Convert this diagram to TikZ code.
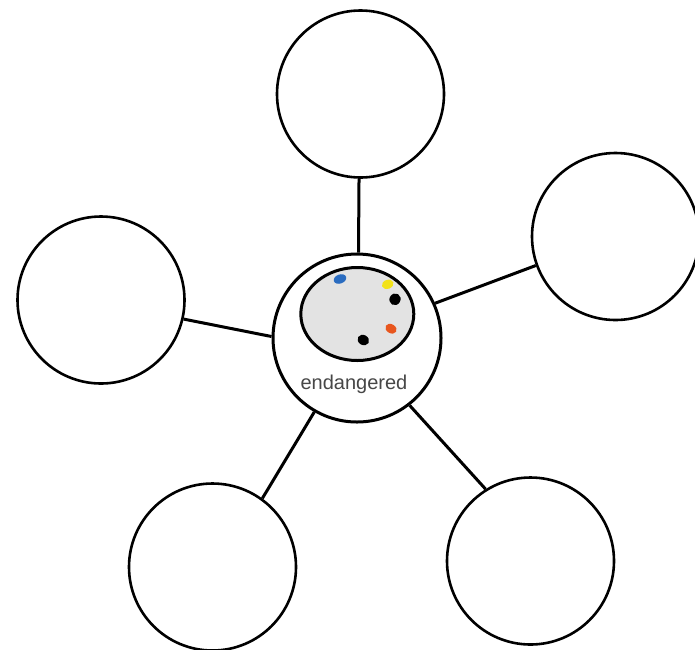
\documentclass[tikz,border=0pt]{standalone}
\usepackage{fontspec}
\setmainfont{Liberation Sans}
\definecolor{spotblue}{HTML}{2A6CC0}
\definecolor{spotyellow}{HTML}{F2E21A}
\definecolor{spotorange}{HTML}{E8561E}
\begin{document}
\begin{tikzpicture}[x=1pt,y=-1pt,
  bubble/.style={circle,draw=black,line width=2.6pt,fill=white,minimum size=167pt,inner sep=0pt},
  hub/.style={circle,draw=black,line width=3pt,fill=white,minimum size=168pt,inner sep=0pt},
  spoke/.style={draw=black,line width=3pt}]
\useasboundingbox (0,0) rectangle (695,649);
\fill[white] (0,0) rectangle (695,649);
% outer circles
\node[bubble] (top) at (360.5,94) {};
\node[bubble] (right) at (615.5,236.5) {};
\node[bubble] (left) at (101,300) {};
\node[bubble] (bl) at (212.5,567) {};
\node[bubble] (br) at (530.5,561) {};
% center
\node[hub] (hub) at (357,338) {};
\draw[black,line width=3pt,fill=gray!22] (357.3,314) ellipse [x radius=56.5pt,y radius=46.5pt];
\node[font=\fontsize{20}{22}\selectfont,text=black!72] (lab) at (354,384) {endangered};
% spots
\fill[spotblue,rotate around={20:(340,279)}] (340,279) ellipse [x radius=6.5pt,y radius=4.5pt];
\fill[spotyellow,rotate around={20:(387.7,284.3)}] (387.7,284.3) ellipse [x radius=6pt,y radius=4.5pt];
\fill[black,rotate around={-30:(395,299.3)}] (395,299.3) ellipse [x radius=5.5pt,y radius=6pt];
\fill[spotorange,rotate around={-30:(391,328.7)}] (391,328.7) ellipse [x radius=6pt,y radius=4.5pt];
\fill[black,rotate around={-30:(363.3,340)}] (363.3,340) ellipse [x radius=6pt,y radius=5pt];
% spokes
\draw[spoke] (top.-91) -- (hub.89);
\draw[spoke] (hub.24.7) -- (right.200);
\draw[spoke] (left.-13) -- (hub.179);
\draw[spoke] (hub.-120) -- (bl.54.7);
\draw[spoke] (hub.-52) -- (br.122.5);
\end{tikzpicture}
\end{document}
